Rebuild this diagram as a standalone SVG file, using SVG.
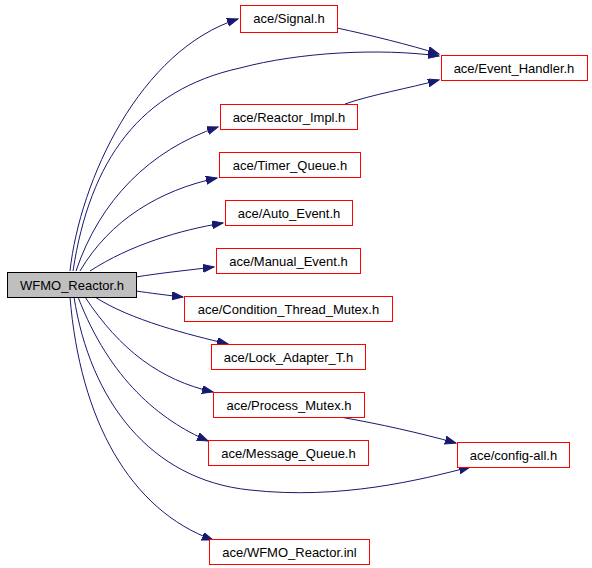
<svg xmlns="http://www.w3.org/2000/svg" width="592" height="568" viewBox="0 0 592 568">
<style>
.n rect{fill:#fff;stroke:#ff0000;stroke-width:1}
.root rect{fill:#bfbfbf;stroke:#000}
text{font-family:"Liberation Sans",Arial,sans-serif;font-size:13px;fill:#000;text-anchor:middle}
.e path{fill:none;stroke:#191970;stroke-width:1;marker-end:url(#ah)}
.e path.p{marker-end:none}
</style>
<defs>
<marker id="ah" markerUnits="userSpaceOnUse" markerWidth="12" markerHeight="10" refX="11" refY="4" orient="auto">
<path d="M0,0 L11,4 L0,8 Z" fill="#191970" stroke="#191970"/>
</marker>
</defs>
<rect width="592" height="568" fill="#fff"/>
<g id="edges" class="e">
<path d="M70,271 C 80,180 140,50 238,19"/>
<path d="M73,271 C 90,160 140,90 240,68 C 300,52 380,48 439,56"/>
<path d="M337,28 C 370,35 410,45 439,54"/>
<path d="M345,104 C 370,95 410,88 439,80"/>
<path d="M76,271 C 100,200 150,150 218,127"/>
<path d="M80,271 C 110,220 160,190 217,178"/>
<path d="M90,271 C 130,245 180,230 223,223"/>
<path d="M136,277 C 160,273 190,270 214,267"/>
<path d="M136,291 C 150,293 165,295 183,297"/>
<path d="M95,297 C 130,320 190,335 228,344"/>
<path d="M85,297 C 120,350 160,380 213,392"/>
<path d="M78,297 C 110,380 160,420 208,441"/>
<path d="M74,297 C 90,400 150,480 250,490 C 340,500 420,480 470,467"/>
<path d="M340,417 C 380,424 420,433 456,443"/>
<path d="M70,297 C 80,420 130,510 213,540"/>
</g>
<g id="WFMO_Reactor_h" class="root"><rect x="7.5" y="272.5" width="129" height="25"/><text x="72" y="289.5">WFMO_Reactor.h</text></g>
<g id="Signal_h" class="n"><rect x="240.5" y="5.5" width="97" height="27"/><text x="289" y="23">ace/Signal.h</text></g>
<g id="Event_Handler_h" class="n"><rect x="441.5" y="55.5" width="146" height="25"/><text x="514" y="72.5">ace/Event_Handler.h</text></g>
<g id="Reactor_Impl_h" class="n"><rect x="220.5" y="104.5" width="137" height="25"/><text x="289" y="121.5">ace/Reactor_Impl.h</text></g>
<g id="Timer_Queue_h" class="n"><rect x="219.5" y="152.5" width="141" height="25"/><text x="290" y="169.5">ace/Timer_Queue.h</text></g>
<g id="Auto_Event_h" class="n"><rect x="225.5" y="200.5" width="127" height="25"/><text x="289" y="217.5">ace/Auto_Event.h</text></g>
<g id="Manual_Event_h" class="n"><rect x="216.5" y="248.5" width="144" height="25"/><text x="288.5" y="265.5">ace/Manual_Event.h</text></g>
<g id="Condition_Thread_Mutex_h" class="n"><rect x="184.5" y="296.5" width="208" height="25"/><text x="288.5" y="313.5">ace/Condition_Thread_Mutex.h</text></g>
<g id="Lock_Adapter_T_h" class="n"><rect x="211.5" y="344.5" width="154" height="25"/><text x="288.5" y="361.5">ace/Lock_Adapter_T.h</text></g>
<g id="Process_Mutex_h" class="n"><rect x="213.5" y="392.5" width="151" height="25"/><text x="289" y="409.5">ace/Process_Mutex.h</text></g>
<g id="Message_Queue_h" class="n"><rect x="208.5" y="440.5" width="160" height="25"/><text x="288.5" y="457.5">ace/Message_Queue.h</text></g>
<g id="config_all_h" class="n"><rect x="457.5" y="442.5" width="112" height="25"/><text x="513.5" y="459.5">ace/config-all.h</text></g>
<g id="WFMO_Reactor_inl" class="n"><rect x="209.5" y="539.5" width="160" height="25"/><text x="289.5" y="556.5">ace/WFMO_Reactor.inl</text></g>
</svg>
